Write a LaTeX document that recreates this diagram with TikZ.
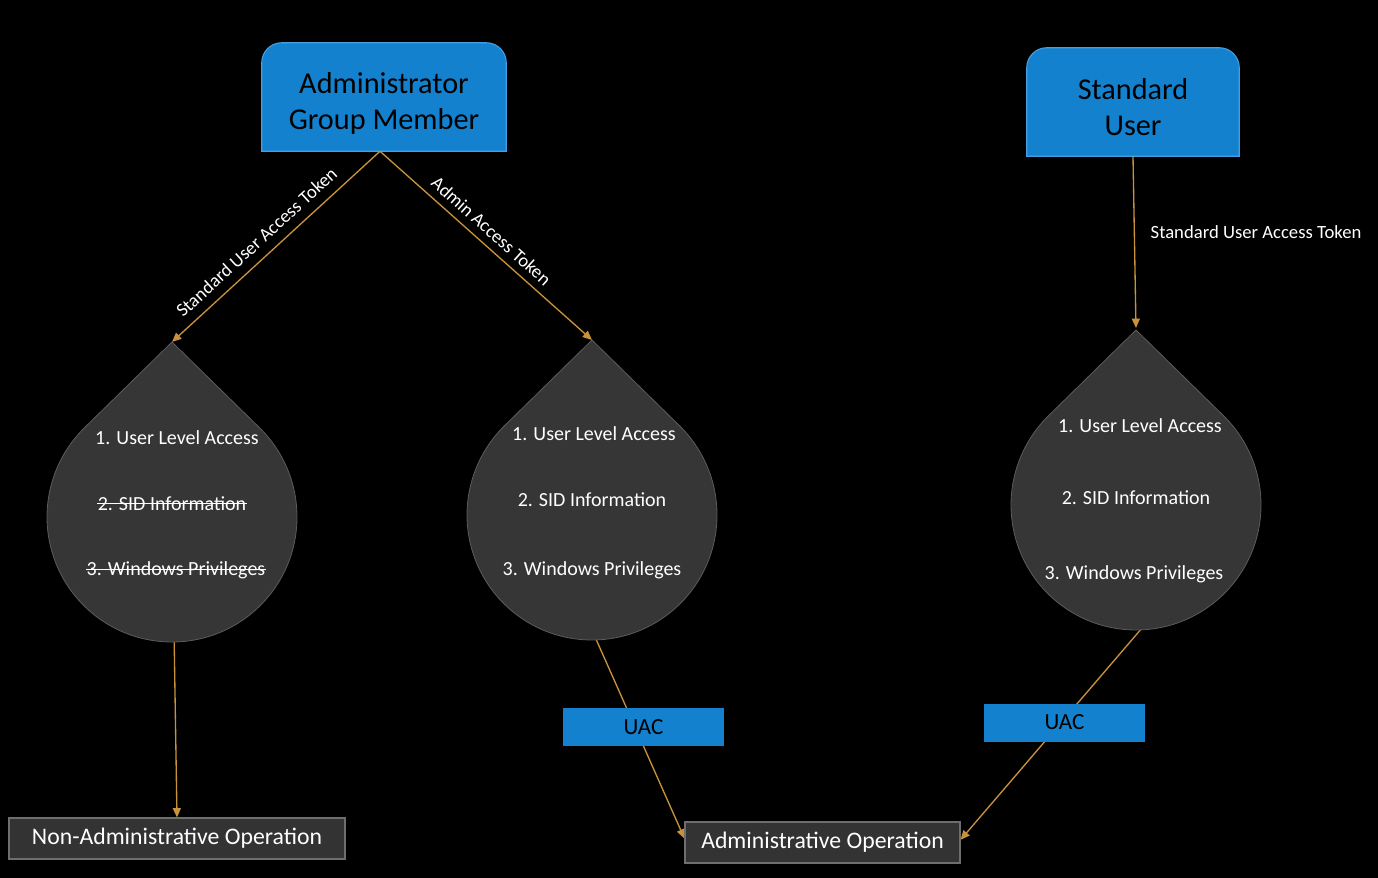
\documentclass[tikz,border=0pt]{standalone}
\usepackage{fontspec}
\setmainfont{Carlito}
\usetikzlibrary{arrows.meta,calc,backgrounds}
\definecolor{boxblue}{HTML}{1381CE}
\definecolor{boxblueedge}{HTML}{45A0E2}
\definecolor{gold}{HTML}{C8923A}
\definecolor{dropgray}{HTML}{363636}
\definecolor{dropedge}{HTML}{5C5C5C}
\definecolor{opgray}{HTML}{333333}
\definecolor{opedge}{HTML}{6E6E6E}
\tikzset{
  conn/.style={draw=gold, line width=1pt},
  arr/.style={conn, -{Triangle[length=7pt,width=6pt]}},
  dropfill/.style={fill=dropgray, draw=dropedge, line width=0.6pt},
  droptxt/.style={text=white, font=\fontsize{15pt}{18pt}\selectfont, inner sep=0pt},
  strike/.style={draw=white, line width=0.75pt},
  lbl/.style={text=white, font=\fontsize{14pt}{16pt}\selectfont, inner sep=2pt},
  bigbox/.style={text=black, align=center, font=\fontsize{22.7pt}{27pt}\selectfont, inner sep=0pt},
  uacbox/.style={fill=boxblue, text=black, font=\fontsize{17.3pt}{20pt}\selectfont, minimum width=120.75pt, minimum height=28.5pt, inner sep=0pt},
  opbox/.style={fill=opgray, draw=opedge, line width=0.8pt, text=white, font=\fontsize{17.8pt}{21pt}\selectfont, minimum height=30.75pt, inner sep=0pt}
}
\newcommand\mydrop[3]{%
  \coordinate (#3-c) at (#1,-#2);
  \coordinate (#3-t) at (#1,-#2+175);
  \path[dropfill] (#3-t) -- ($(#3-c)+(45.6:125)$) arc[start angle=45.6,end angle=-225.6,radius=125] -- cycle;
}
\begin{document}
\begin{tikzpicture}[x=0.75pt,y=0.75pt]
\useasboundingbox (0,0) rectangle (1378,-878);
\begin{scope}[on background layer]
  \fill[black] (0,0) rectangle (1378,-878);
\end{scope}

% drops
\mydrop{172}{517}{dL}
\mydrop{592}{515}{dM}
\mydrop{1136}{505}{dR}
\coordinate (dL-b) at ($(dL-c)+(-89:125)$);
\coordinate (dM-b) at ($(dM-c)+(-88:125)$);
\coordinate (dR-b) at ($(dR-c)+(-88:125)$);

\node[droptxt] (tL1) at (177,-438) {1. User Level Access};
\node[droptxt] (tL2) at (172,-504) {2. SID Information};
\node[droptxt] (tL3) at (176,-570) {3. Windows Privileges};
\draw[strike] ([yshift=0.3pt]tL2.west) -- ([yshift=0.3pt]tL2.east);
\draw[strike] ([yshift=0.3pt]tL3.west) -- ([yshift=0.3pt]tL3.east);
\node[droptxt] (tM1) at (594,-434) {1. User Level Access};
\node[droptxt] (tM2) at (592,-500) {2. SID Information};
\node[droptxt] (tM3) at (592,-570) {3. Windows Privileges};
\node[droptxt] (tR1) at (1140,-426) {1. User Level Access};
\node[droptxt] (tR2) at (1136,-498) {2. SID Information};
\node[droptxt] (tR3) at (1134,-574) {3. Windows Privileges};

% top boxes
\node[bigbox, minimum width=183pt, minimum height=81pt] (adm) at (384,-97) {\rule{0pt}{25pt}Administrator\\Group Member};
\node[bigbox, minimum width=159pt, minimum height=81pt] (std) at (1133,-102) {\rule{0pt}{23pt}Standard\\User};

% bottom boxes
\node[opbox, minimum width=252pt] (nonadm) at (177,-838.5) {Non-Administrative Operation};
\node[opbox, minimum width=206.25pt] (aop) at (822.5,-842.5) {Administrative Operation};
\node[uacbox] (uac1) at (643.5,-727) {UAC};
\node[uacbox] (uac2) at (1064.5,-722.5) {UAC};

\begin{scope}[on background layer]
  \path[fill=boxblue, draw=boxblueedge, line width=0.8pt]
    (adm.south west) -- ([yshift=-15pt]adm.north west) arc[start angle=180,end angle=90,radius=15pt]
    -- ([xshift=-15pt]adm.north east) arc[start angle=90,end angle=0,radius=15pt] -- (adm.south east) -- cycle;
  \path[fill=boxblue, draw=boxblueedge, line width=0.8pt]
    (std.south west) -- ([yshift=-15pt]std.north west) arc[start angle=180,end angle=90,radius=15pt]
    -- ([xshift=-15pt]std.north east) arc[start angle=90,end angle=0,radius=15pt] -- (std.south east) -- cycle;
  \draw[arr] ([xshift=-3pt]adm.south) -- node[lbl, sloped, above=5pt, pos=0.54] {Standard User Access Token} (dL-t);
  \draw[arr] ([xshift=-3pt]adm.south) -- node[lbl, sloped, above=3.5pt, pos=0.48] {Admin Access Token} (dM-t);
  \draw[arr] (std.south) -- ([yshift=1.5pt]dR-t);
  \draw[arr] (dL-b) -- (nonadm.north);
  \draw[arr] (dM-b) -- ([yshift=3pt]aop.west);
  \draw[arr] (dR-b) -- ([yshift=2pt]aop.east);
\end{scope}
\node[lbl] (stdlbl) at (1256,-232) {Standard User Access Token};
\end{tikzpicture}
\end{document}
